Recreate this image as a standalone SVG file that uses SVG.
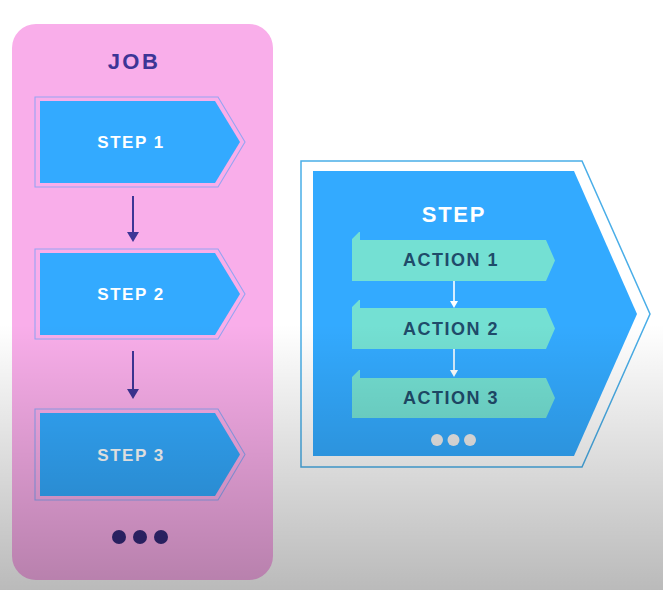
<svg xmlns="http://www.w3.org/2000/svg" width="663" height="590" viewBox="0 0 663 590">
  <defs>
    <linearGradient id="shade" x1="0" y1="0" x2="0" y2="590" gradientUnits="userSpaceOnUse">
      <stop offset="0" stop-color="#000" stop-opacity="0"/>
      <stop offset="0.55" stop-color="#000" stop-opacity="0"/>
      <stop offset="1" stop-color="#000" stop-opacity="0.27"/>
    </linearGradient>
    <style>
      .job-title { font-family: "Liberation Sans", Arial, sans-serif; font-weight: bold; font-size: 22px; fill: #3d3596; letter-spacing: 2.5px; text-anchor: middle; }
      .step-outer { fill: #f9aeea; stroke: #96a4f2; stroke-width: 1.1; }
      .step-inner { fill: #33aaff; }
      .step-label { font-family: "Liberation Sans", Arial, sans-serif; font-weight: bold; font-size: 17px; fill: #ffffff; letter-spacing: 1.5px; text-anchor: middle; }
      .big-title { font-family: "Liberation Sans", Arial, sans-serif; font-weight: bold; font-size: 22px; fill: #ffffff; letter-spacing: 1.8px; text-anchor: middle; }
      .action { fill: #74e0d3; }
      .action-label { font-family: "Liberation Sans", Arial, sans-serif; font-weight: bold; font-size: 18px; fill: #1f4b6a; letter-spacing: 1.5px; text-anchor: middle; }
      .conn-purple { stroke: #3d3596; stroke-width: 2; fill: none; }
      .head-purple { fill: #3d3596; }
      .conn-white { stroke: #ffffff; stroke-width: 1.6; fill: none; }
      .head-white { fill: #ffffff; }
    </style>
  </defs>

  <rect x="0" y="0" width="663" height="590" fill="#ffffff"/>

  <g id="job">
    <rect x="12" y="24" width="261" height="556" rx="24" ry="24" fill="#f9aeea"/>
    <text class="job-title" x="134" y="69">JOB</text>
  </g>

  <g id="step1">
    <path class="step-outer" d="M35,97 H218 L245,142 L218,187 H35 Z"/>
    <path class="step-inner" d="M40,101 H215 L240,142 L215,183 H40 Z"/>
    <text class="step-label" x="131" y="148">STEP 1</text>
  </g>

  <g id="step2">
    <path class="step-outer" d="M35,249 H218 L245,294 L218,339 H35 Z"/>
    <path class="step-inner" d="M40,253 H215 L240,294 L215,335 H40 Z"/>
    <text class="step-label" x="131" y="300">STEP 2</text>
  </g>

  <g id="step3">
    <path class="step-outer" d="M35,409 H218 L245,454.5 L218,500 H35 Z"/>
    <path class="step-inner" d="M40,413 H215 L240,454.5 L215,496 H40 Z"/>
    <text class="step-label" x="131" y="461">STEP 3</text>
  </g>

  <g id="job-more">
    <circle cx="119" cy="537" r="7" fill="#33297a"/>
    <circle cx="140" cy="537" r="7" fill="#33297a"/>
    <circle cx="161" cy="537" r="7" fill="#33297a"/>
  </g>

  <g id="step-detail">
    <path d="M301,161 H582 L650,314 L582,467 H301 Z" fill="#ffffff" stroke="#4aaee8" stroke-width="1.5"/>
    <path d="M313,171 H574 L637,314 L574,456 H313 Z" fill="#33aaff"/>
    <text class="big-title" x="454" y="222">STEP</text>
  </g>

  <g id="action1">
    <path class="action" d="M352,281 V239 L359,232 H360 V240 H546 L555,260.5 L546,281 Z"/>
    <text class="action-label" x="451" y="266">ACTION 1</text>
  </g>

  <g id="action2">
    <path class="action" d="M352,349 V307 L359,300 H360 V308 H546 L555,328.5 L546,349 Z"/>
    <text class="action-label" x="451" y="335">ACTION 2</text>
  </g>

  <g id="action3">
    <path class="action" d="M352,418 V377 L359,370 H360 V378 H546 L555,398 L546,418 Z"/>
    <text class="action-label" x="451" y="404">ACTION 3</text>
  </g>

  <g id="step-more">
    <circle cx="437" cy="440" r="6" fill="#ececec"/>
    <circle cx="453.5" cy="440" r="6" fill="#ececec"/>
    <circle cx="470" cy="440" r="6" fill="#ececec"/>
  </g>

  <g id="connectors">
    <line class="conn-purple" x1="133" y1="196" x2="133" y2="233"/>
    <path class="head-purple" d="M127,232 H139 L133,242 Z"/>
    <line class="conn-purple" x1="133" y1="351" x2="133" y2="390"/>
    <path class="head-purple" d="M127,389 H139 L133,399 Z"/>
    <line class="conn-white" x1="454" y1="281" x2="454" y2="302"/>
    <path class="head-white" d="M450,301 H458 L454,308 Z"/>
    <line class="conn-white" x1="454" y1="349" x2="454" y2="371"/>
    <path class="head-white" d="M450,370 H458 L454,377 Z"/>
  </g>

  <rect x="0" y="0" width="663" height="590" fill="url(#shade)" pointer-events="none"/>
</svg>
